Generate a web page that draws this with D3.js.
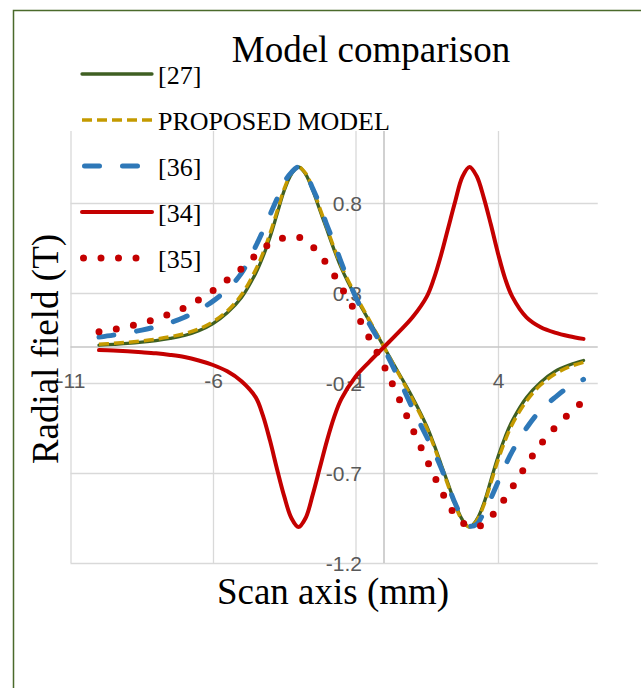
<!DOCTYPE html>
<html>
<head>
<meta charset="utf-8">
<script src="https://cdn.jsdelivr.net/npm/d3@7/dist/d3.min.js"></script>
<style>
  html, body { margin: 0; padding: 0; background: #fff; }
  svg { display: block; }
</style>
</head>
<body>
<svg id="chart" width="641" height="688"></svg>
<script>
// ---- data ----
const scanX = [-10,-9.5,-9,-8.5,-8,-7.5,-7,-6.5,-6,-5.5,-5,-4.5,-4.25,-4,-3.75,-3.5,-3.25,-3,-2.75,-2.5,-2.25,-2,-1.75,-1.5,-1,-0.5,0,0.5,1,1.5,1.75,2,2.25,2.5,2.75,3,3.25,3.5,3.75,4,4.25,4.5,5,5.5,6,6.5,7];

const ref27 = [0.01,0.015,0.02,0.027,0.036,0.048,0.064,0.09,0.13,0.19,0.275,0.41,0.5,0.61,0.74,0.87,0.96,1.0,0.96,0.87,0.76,0.65,0.54,0.44,0.28,0.14,0,
  -0.14,-0.28,-0.44,-0.54,-0.65,-0.76,-0.87,-0.96,-1.0,-0.96,-0.87,-0.74,-0.61,-0.5,-0.41,-0.28,-0.195,-0.135,-0.1,-0.075];

const proposedModel = [0.015,0.02,0.026,0.034,0.044,0.057,0.074,0.1,0.14,0.2,0.29,0.43,0.52,0.63,0.755,0.88,0.965,1.0,0.965,0.88,0.77,0.66,0.55,0.45,0.29,0.145,0,
  -0.145,-0.29,-0.45,-0.55,-0.66,-0.77,-0.88,-0.965,-1.0,-0.965,-0.88,-0.755,-0.63,-0.52,-0.43,-0.3,-0.21,-0.15,-0.11,-0.085];

const ref36 = [0.055,0.066,0.079,0.094,0.112,0.135,0.165,0.205,0.255,0.32,0.41,0.56,0.645,0.735,0.825,0.915,0.97,1.0,0.965,0.88,0.79,0.675,0.58,0.47,0.28,0.125,-0.01,
  -0.17,-0.34,-0.5,-0.58,-0.67,-0.77,-0.87,-0.95,-0.995,-0.985,-0.92,-0.84,-0.75,-0.66,-0.58,-0.45,-0.35,-0.28,-0.22,-0.18];

const ref34 = [-0.017,-0.02,-0.024,-0.029,-0.035,-0.044,-0.056,-0.075,-0.1,-0.135,-0.19,-0.28,-0.38,-0.52,-0.68,-0.83,-0.95,-1.0,-0.95,-0.82,-0.67,-0.52,-0.39,-0.29,-0.165,-0.08,0,
  0.08,0.165,0.28,0.38,0.51,0.66,0.81,0.945,1.0,0.95,0.83,0.68,0.52,0.38,0.28,0.165,0.11,0.08,0.06,0.045];

const ref35 = [0.085,0.097,0.113,0.132,0.156,0.185,0.218,0.262,0.313,0.372,0.435,0.51,0.545,0.575,0.595,0.607,0.612,0.61,0.59,0.557,0.51,0.46,0.4,0.333,0.195,0.045,-0.105,
  -0.278,-0.455,-0.628,-0.712,-0.795,-0.87,-0.935,-0.975,-0.995,-0.998,-0.985,-0.945,-0.895,-0.84,-0.78,-0.655,-0.54,-0.447,-0.37,-0.30];

const seriesNames = ["[27]", "PROPOSED MODEL", "[36]", "[34]", "[35]"];
const xTickValues = [-11, -6, -1, 4];
const yTickValues = [-1.2, -0.7, -0.2, 0.3, 0.8];

const chartTitle = "Model comparison";
const xTitle = "Scan axis (mm)";
const yTitle = "Radial field (T)";

// ---- styles ----
const styles = [
  { color: "#3f5f22", width: 3.3, dash: null, cap: "round" },
  { color: "#c49a00", width: 3.5, dash: "10 5", cap: "butt" },
  { color: "#2e78b8", width: 5, dash: "15 23", cap: "round" },
  { color: "#c40000", width: 4, dash: null, cap: "round" },
  { color: "#c40000", width: 7, dash: "0 17.5", cap: "round" }
];
const allSeries = [ref27, proposedModel, ref36, ref34, ref35];

const svg = d3.select("#chart");

// border (only left/top visible in the frame)
svg.append("rect")
  .attr("x", 13.5).attr("y", 10.5)
  .attr("width", 900).attr("height", 900)
  .attr("fill", "none")
  .attr("stroke", "#4a6a2b")
  .attr("stroke-width", 1.5);

const plot = { left: 70.5, right: 597.75, top: 131, bottom: 563 };
const x = d3.scaleLinear().domain([-11, 7.5]).range([plot.left, plot.right]);
const y = d3.scaleLinear().domain([-1.2, 1.2]).range([plot.bottom, plot.top]);

// vertical gridlines
svg.append("g")
  .attr("transform", `translate(0,${plot.bottom})`)
  .call(d3.axisBottom(x).tickValues(xTickValues).tickSize(-(plot.bottom - plot.top)).tickFormat(""))
  .call(g => g.select(".domain").remove())
  .call(g => g.selectAll("line").attr("stroke", "#d9d9d9").attr("stroke-width", 1.3));

// horizontal gridlines
svg.append("g")
  .attr("transform", `translate(${plot.left},0)`)
  .call(d3.axisLeft(y).tickValues(yTickValues).tickSize(-(plot.right - plot.left)).tickFormat(""))
  .call(g => g.select(".domain").remove())
  .call(g => g.selectAll("line").attr("stroke", "#d9d9d9").attr("stroke-width", 1.3));

// axis lines through zero
svg.append("line")
  .attr("x1", plot.left).attr("x2", plot.right)
  .attr("y1", y(0)).attr("y2", y(0))
  .attr("stroke", "#c6c6c6").attr("stroke-width", 1.6);
svg.append("line")
  .attr("x1", x(0)).attr("x2", x(0))
  .attr("y1", plot.top).attr("y2", plot.bottom)
  .attr("stroke", "#c6c6c6").attr("stroke-width", 1.6);

// tick labels
const tickFont = "'Liberation Sans', Arial, sans-serif";
svg.append("g")
  .attr("transform", `translate(0,${y(0)})`)
  .call(d3.axisBottom(x).tickValues(xTickValues).tickSize(0).tickFormat(d => String(d)))
  .call(g => g.select(".domain").remove())
  .call(g => g.selectAll("text")
    .attr("y", 33).attr("dy", "0.36em")
    .attr("fill", "#595959")
    .style("font-family", tickFont).style("font-size", "21px"));

svg.append("g")
  .attr("transform", `translate(${x(0)},0)`)
  .call(d3.axisLeft(y).tickValues(yTickValues).tickSize(0).tickPadding(22).tickFormat(d => String(d)))
  .call(g => g.select(".domain").remove())
  .call(g => g.selectAll("text")
    .attr("dy", "0.36em")
    .attr("fill", "#595959")
    .style("font-family", tickFont).style("font-size", "21px"));

// series
const line = d3.line()
  .x((d, i) => x(scanX[i]))
  .y(d => y(d))
  .curve(d3.curveCatmullRom.alpha(0.5));

allSeries.forEach((vals, k) => {
  const s = styles[k];
  const p = svg.append("path")
    .attr("d", line(vals))
    .attr("fill", "none")
    .attr("stroke", s.color)
    .attr("stroke-width", s.width)
    .attr("stroke-linecap", s.cap)
    .attr("stroke-linejoin", "round");
  if (s.dash) p.attr("stroke-dasharray", s.dash);
});

// title
const serif = "'Liberation Serif', 'Times New Roman', serif";
svg.append("text")
  .attr("x", 371).attr("y", 62)
  .attr("text-anchor", "middle")
  .style("font-family", serif).style("font-size", "37px")
  .attr("fill", "#000")
  .text(chartTitle);

// axis titles
svg.append("text")
  .attr("x", 333).attr("y", 604)
  .attr("text-anchor", "middle")
  .style("font-family", serif).style("font-size", "37px")
  .attr("fill", "#000")
  .text(xTitle);

svg.append("text")
  .attr("transform", `translate(58,349) rotate(-90)`)
  .attr("text-anchor", "middle")
  .style("font-family", serif).style("font-size", "37px")
  .attr("fill", "#000")
  .text(yTitle);

// legend
const legendRows = [74, 120, 166, 212, 258];
seriesNames.forEach((name, k) => {
  const s = styles[k];
  const yy = legendRows[k];
  const x0 = k === 2 ? 84.5 : (k === 4 ? 83.5 : 82);
  const l = svg.append("line")
    .attr("x1", x0).attr("x2", 152)
    .attr("y1", yy).attr("y2", yy)
    .attr("stroke", s.color)
    .attr("stroke-width", s.width)
    .attr("stroke-linecap", s.cap);
  if (s.dash) l.attr("stroke-dasharray", s.dash);
  svg.append("text")
    .attr("x", 158).attr("y", yy + 9.5)
    .style("font-family", serif).style("font-size", "26px")
    .attr("fill", "#000")
    .text(name);
});
</script>
</body>
</html>
